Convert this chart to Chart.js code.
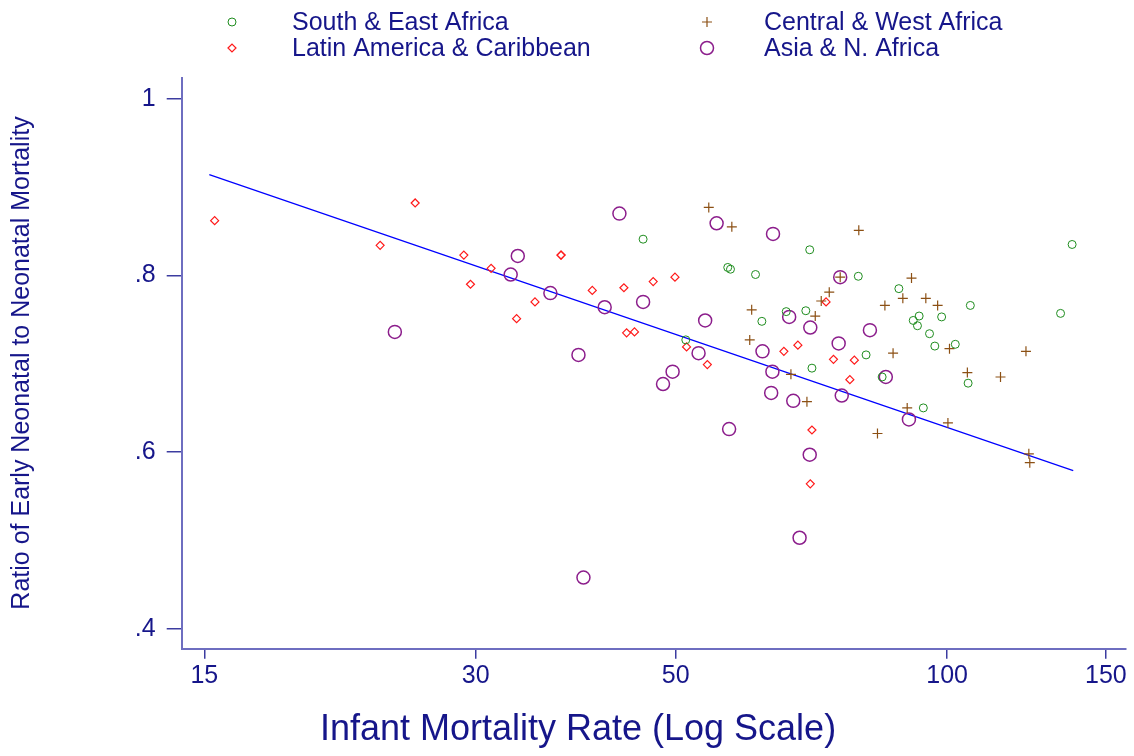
<!DOCTYPE html>
<html lang="en">

<head>
    <meta charset="UTF-8">
    <title>Early Neonatal Ratio vs Infant Mortality</title>
    <script src="https://cdn.jsdelivr.net/npm/chart.js"></script>
    <style>
        body { margin: 0; background: #fff; }
    </style>
</head>

<body>
    <canvas id="myChart" width="1134" height="756"></canvas>

    <script>
        // axis ticks
        const xTicks = [15, 30, 50, 100, 150];
        const yTicks = [0.4, 0.6, 0.8, 1];
        const yTickLabels = ['.4', '.6', '.8', '1'];

        // infant mortality rate (x) / ratio (y) per region
        const southEastX = [46.0, 57.1, 57.5, 61.3, 66.3, 62.3, 51.3, 70.4, 137.6, 79.7, 88.4, 106.1, 133.6,
            69.7, 91.7, 93.1, 92.7, 98.6, 95.6, 96.9, 102.1, 81.3, 70.8, 84.7, 105.5, 94.1];
        const southEastY = [0.841, 0.809, 0.807, 0.801, 0.759, 0.748, 0.727, 0.829, 0.835, 0.799, 0.785, 0.766, 0.757,
            0.760, 0.749, 0.754, 0.743, 0.753, 0.734, 0.720, 0.722, 0.710, 0.695, 0.685, 0.678, 0.650];

        const centralWestX = [54.4, 57.7, 60.7, 60.4, 67.1, 79.8, 76.1, 91.3, 74.0, 72.5, 89.3, 94.7, 85.3,
            97.6, 71.4, 100.6, 122.3, 87.1, 105.3, 114.6, 69.9, 90.3, 100.2, 83.7, 123.2, 123.5];
        const centralWestY = [0.877, 0.855, 0.761, 0.727, 0.688, 0.851, 0.798, 0.797, 0.781, 0.771, 0.774, 0.774, 0.766,
            0.766, 0.754, 0.717, 0.714, 0.712, 0.690, 0.685, 0.657, 0.650, 0.633, 0.621, 0.598, 0.588];

        const latinX = [15.4, 25.7, 23.5, 29.1, 31.2, 29.6, 33.3, 37.3, 37.3, 49.9, 47.2, 40.4, 43.8,
            34.9, 44.1, 45.0, 51.4, 65.9, 68.3, 54.2, 73.4, 74.8, 78.9, 78.0, 70.8, 70.5];
        const latinY = [0.862, 0.882, 0.834, 0.823, 0.808, 0.790, 0.751, 0.823, 0.823, 0.798, 0.793, 0.783, 0.786,
            0.770, 0.735, 0.736, 0.719, 0.714, 0.721, 0.699, 0.770, 0.705, 0.704, 0.682, 0.625, 0.564];

        const asiaX = [33.4, 32.8, 24.4, 43.3, 55.5, 64.1, 36.3, 46.0, 41.7, 66.8, 53.9, 53.0, 62.4, 39.0, 49.6,
            64.0, 48.4, 63.8, 67.5, 57.3, 76.1, 70.5, 82.1, 75.8, 85.5, 76.4, 90.7, 70.4, 68.6, 39.5];
        const asiaY = [0.822, 0.801, 0.736, 0.870, 0.859, 0.847, 0.780, 0.770, 0.764, 0.753, 0.749, 0.712, 0.714, 0.710, 0.691,
            0.691, 0.677, 0.667, 0.658, 0.626, 0.798, 0.741, 0.738, 0.723, 0.685, 0.664, 0.637, 0.597, 0.503, 0.458];

        // fitted line, end points
        const fitX = [15.19, 138.0];
        const fitY = [0.914, 0.579];

        const navy = '#16168a';
        const font = "'Liberation Sans', Arial, Helvetica, sans-serif";

        function pts(xs, ys) {
            return xs.map((x, i) => ({ x: x, y: ys[i] }));
        }

        const series = [
            { label: 'South & East Africa', x: southEastX, y: southEastY, color: '#1e8c1e', style: 'circle', r: 4, w: 1 },
            { label: 'Central & West Africa', x: centralWestX, y: centralWestY, color: '#8c5014', style: 'cross', r: 5, w: 1.2 },
            { label: 'Latin America & Caribbean', x: latinX, y: latinY, color: '#ff1a1a', style: 'rectRot', r: 4, w: 1.2 },
            { label: 'Asia & N. Africa', x: asiaX, y: asiaY, color: '#8c1e8c', style: 'circle', r: 6.5, w: 1.5 }
        ];

        // legend + axis titles drawn by hand (layout doesn't fit chart.js legend)
        const decor = {
            id: 'decor',
            afterDraw(chart) {
                const ctx = chart.ctx;
                ctx.save();
                const spots = [[232, 22, 292, 21], [707, 22, 764, 21], [232, 48, 292, 47], [707, 48, 764, 47]];
                series.forEach((s, i) => {
                    const p = spots[i];
                    ctx.strokeStyle = s.color;
                    ctx.fillStyle = 'rgba(0,0,0,0)';
                    ctx.lineWidth = s.w;
                    Chart.helpers.drawPoint(ctx, { pointStyle: s.style, radius: s.r, rotation: 0, borderWidth: s.w }, p[0], p[1]);
                    ctx.fillStyle = navy;
                    ctx.font = '25px ' + font;
                    ctx.textAlign = 'left';
                    ctx.textBaseline = 'middle';
                    ctx.fillText(s.label, p[2], p[3] + 2);
                });

                ctx.fillStyle = navy;
                ctx.textAlign = 'center';
                ctx.textBaseline = 'middle';
                ctx.font = '36px ' + font;
                ctx.fillText('Infant Mortality Rate (Log Scale)', 578, 730);

                ctx.translate(22, 363);
                ctx.rotate(-Math.PI / 2);
                ctx.font = '25px ' + font;
                ctx.fillText('Ratio of Early Neonatal to Neonatal Mortality', 0, 0);
                ctx.restore();
            }
        };

        const datasets = series.map(s => ({
            label: s.label,
            data: pts(s.x, s.y),
            pointStyle: s.style,
            pointRadius: s.r,
            pointBorderWidth: s.w,
            pointBorderColor: s.color,
            pointBackgroundColor: 'rgba(0,0,0,0)',
            showLine: false
        }));
        datasets.push({
            label: 'fit',
            data: pts(fitX, fitY),
            showLine: true,
            borderColor: '#0000ff',
            borderWidth: 1.2,
            pointRadius: 0
        });

        const ctx = document.getElementById('myChart').getContext('2d');
        new Chart(ctx, {
            type: 'scatter',
            data: { datasets: datasets },
            options: {
                responsive: false,
                animation: false,
                devicePixelRatio: 1,
                layout: { padding: { top: 77.7, right: 7.3, left: 0, bottom: 0 } },
                plugins: {
                    legend: { display: false },
                    tooltip: { enabled: false }
                },
                scales: {
                    x: {
                        type: 'logarithmic',
                        min: 14.157,
                        max: 157.9,
                        afterBuildTicks: s => { s.ticks = xTicks.map(v => ({ value: v })); },
                        afterFit: s => { s.height = 107.3; },
                        ticks: {
                            color: navy,
                            font: { family: font, size: 25 },
                            padding: 2,
                            maxRotation: 0,
                            autoSkip: false,
                            callback: v => String(v)
                        },
                        grid: { drawOnChartArea: false, tickLength: 10, color: '#3c3ca0', lineWidth: 1.5 },
                        border: { color: '#6e6ec0', width: 2 }
                    },
                    y: {
                        min: 0.3774,
                        max: 1.0238,
                        afterBuildTicks: s => { s.ticks = yTicks.map(v => ({ value: v })); },
                        afterFit: s => { s.width = 181.7; },
                        ticks: {
                            color: navy,
                            font: { family: font, size: 25 },
                            padding: 11,
                            autoSkip: false,
                            callback: v => yTickLabels[yTicks.indexOf(v)]
                        },
                        grid: { drawOnChartArea: false, tickLength: 15, color: '#3c3ca0', lineWidth: 1.5 },
                        border: { color: '#6e6ec0', width: 2 }
                    }
                }
            },
            plugins: [decor]
        });
    </script>
</body>

</html>
